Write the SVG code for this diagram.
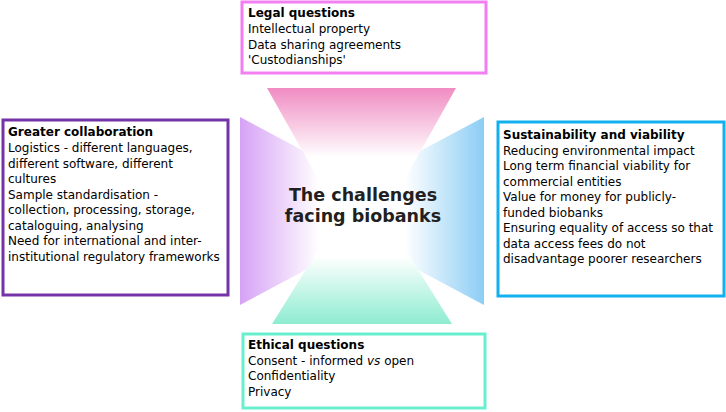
<svg xmlns="http://www.w3.org/2000/svg" width="726" height="412" viewBox="0 0 726 412">
  <defs>
    <linearGradient id="gPink" x1="0" y1="0" x2="0" y2="1">
      <stop offset="0" stop-color="#f08cc2"/>
      <stop offset="0.62" stop-color="#ffffff"/>
    </linearGradient>
    <linearGradient id="gPurple" x1="0" y1="0" x2="1" y2="0">
      <stop offset="0" stop-color="#d6a2f5"/>
      <stop offset="0.65" stop-color="#ffffff"/>
    </linearGradient>
    <linearGradient id="gBlue" x1="1" y1="0" x2="0" y2="0">
      <stop offset="0" stop-color="#8ccdf5"/>
      <stop offset="0.65" stop-color="#ffffff"/>
    </linearGradient>
    <linearGradient id="gGreen" x1="0" y1="1" x2="0" y2="0">
      <stop offset="0" stop-color="#8eecd0"/>
      <stop offset="0.62" stop-color="#ffffff"/>
    </linearGradient>
  </defs>
  <style>
    .box { fill: #ffffff; stroke-width: 3; }
    .t { font-family: "DejaVu Sans", Verdana, sans-serif; font-size: 12px; fill: #000000; }
    .b { font-weight: bold; }
    .title { font-family: "DejaVu Sans", Verdana, sans-serif; font-size: 17.5px; font-weight: bold; fill: #231f20; text-anchor: middle; }
  </style>
  <rect width="726" height="412" fill="#ffffff"/>

  <g id="hub">
    <polygon points="240,117 362,182 362,240 240,305" fill="url(#gPurple)"/>
    <polygon points="484,117 484,305 362,240 362,182" fill="url(#gBlue)"/>
    <polygon points="267,88 456,88 393,200 330,200" fill="url(#gPink)"/>
    <polygon points="272,324 452,324 384,215 340,215" fill="url(#gGreen)"/>
    <text class="title" x="363" y="201">The challenges</text>
    <text class="title" x="363" y="222">facing biobanks</text>
  </g>

  <g id="connectors"></g>

  <g id="legal">
    <rect class="box" x="242" y="2" width="244" height="71" stroke="#f27ef2"/>
    <text class="t b" x="248" y="17">Legal questions</text>
    <text class="t" x="248" y="33">Intellectual property</text>
    <text class="t" x="248" y="48.5">Data sharing agreements</text>
    <text class="t" x="248" y="64">'Custodianships'</text>
  </g>

  <g id="collaboration">
    <rect class="box" x="3" y="120" width="225" height="175" stroke="#7434a8"/>
    <text class="t b" x="8" y="136">Greater collaboration</text>
    <text class="t" x="8" y="152">Logistics - different languages,</text>
    <text class="t" x="8" y="167.5">different software, different</text>
    <text class="t" x="8" y="183">cultures</text>
    <text class="t" x="8" y="198.5">Sample standardisation -</text>
    <text class="t" x="8" y="214">collection, processing, storage,</text>
    <text class="t" x="8" y="229.5">cataloguing, analysing</text>
    <text class="t" x="8" y="245">Need for international and inter-</text>
    <text class="t" x="8" y="260.5">institutional regulatory frameworks</text>
  </g>

  <g id="sustainability">
    <rect class="box" x="498" y="122" width="226" height="174" stroke="#12b0ee"/>
    <text class="t b" x="503" y="139">Sustainability and viability</text>
    <text class="t" x="503" y="154.5">Reducing environmental impact</text>
    <text class="t" x="503" y="170">Long term financial viability for</text>
    <text class="t" x="503" y="185.5">commercial entities</text>
    <text class="t" x="503" y="201">Value for money for publicly-</text>
    <text class="t" x="503" y="216.5">funded biobanks</text>
    <text class="t" x="503" y="232">Ensuring equality of access so that</text>
    <text class="t" x="503" y="247.5">data access fees do not</text>
    <text class="t" x="503" y="263">disadvantage poorer researchers</text>
  </g>

  <g id="ethical">
    <rect class="box" x="243" y="334" width="242" height="74" stroke="#68efcf"/>
    <text class="t b" x="248" y="349">Ethical questions</text>
    <text class="t" x="248" y="364.5">Consent - informed <tspan font-style="italic">vs</tspan> open</text>
    <text class="t" x="248" y="380">Confidentiality</text>
    <text class="t" x="248" y="395.5">Privacy</text>
  </g>
</svg>
